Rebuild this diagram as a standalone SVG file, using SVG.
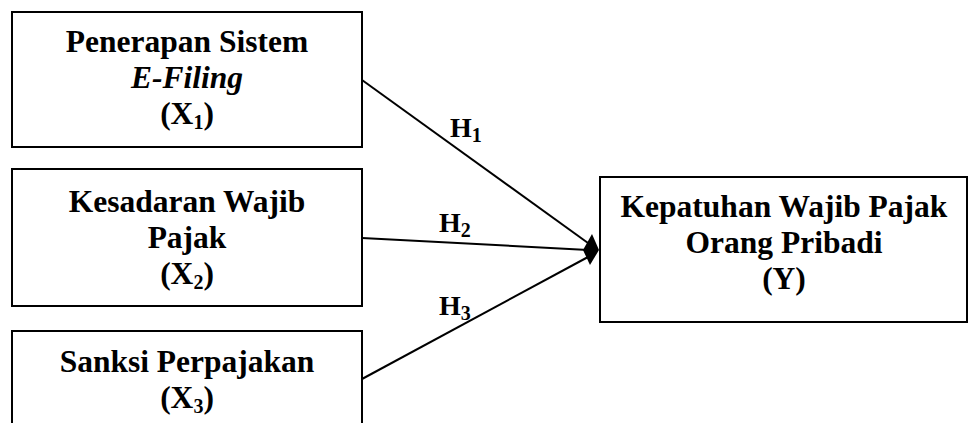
<svg xmlns="http://www.w3.org/2000/svg" width="971" height="423" viewBox="0 0 971 423">
  <style>
    .box { fill: #ffffff; stroke: #000000; stroke-width: 2; }
    .lbl { font-family: "Liberation Serif", "Times New Roman", serif; font-weight: bold; font-size: 31.5px; fill: #000000; text-anchor: middle; }
    .hyp { font-family: "Liberation Serif", "Times New Roman", serif; font-weight: bold; font-size: 28px; fill: #000000; }
    .sub { font-size: 20px; }
    .link { stroke: #000000; stroke-width: 2; fill: none; }
  </style>
  <rect width="971" height="423" fill="#ffffff"/>

  <g id="node-x1">
    <rect class="box" x="12" y="12" width="350" height="135"/>
    <text class="lbl" x="187" y="52">Penerapan Sistem</text>
    <text class="lbl" x="187" y="88" font-style="italic">E-Filing</text>
    <text class="lbl" x="187" y="124">(X<tspan class="sub" dy="5">1</tspan><tspan dy="-5">)</tspan></text>
  </g>

  <g id="node-x2">
    <rect class="box" x="12" y="169" width="350" height="137"/>
    <text class="lbl" x="187" y="212">Kesadaran Wajib</text>
    <text class="lbl" x="187" y="248">Pajak</text>
    <text class="lbl" x="187" y="284">(X<tspan class="sub" dy="5">2</tspan><tspan dy="-5">)</tspan></text>
  </g>

  <g id="node-x3">
    <rect class="box" x="12" y="331" width="350" height="110"/>
    <text class="lbl" x="187" y="372">Sanksi Perpajakan</text>
    <text class="lbl" x="187" y="408">(X<tspan class="sub" dy="5">3</tspan><tspan dy="-5">)</tspan></text>
  </g>

  <g id="node-y">
    <rect class="box" x="600" y="177" width="367" height="145"/>
    <text class="lbl" x="784" y="217">Kepatuhan Wajib Pajak</text>
    <text class="lbl" x="784" y="253">Orang Pribadi</text>
    <text class="lbl" x="784" y="289">(Y)</text>
  </g>

  <g id="connectors">
    <line class="link" x1="362" y1="80" x2="588" y2="243"/>
    <line class="link" x1="362" y1="238" x2="588" y2="250"/>
    <line class="link" x1="362" y1="379" x2="588" y2="257"/>
    <path d="M592,234 L599,250 L590,265 L583,250 Z" fill="#000000"/>
    <text class="hyp" x="450" y="137">H<tspan class="sub" dy="5">1</tspan></text>
    <text class="hyp" x="439" y="232">H<tspan class="sub" dy="5">2</tspan></text>
    <text class="hyp" x="439" y="315">H<tspan class="sub" dy="5">3</tspan></text>
  </g>
</svg>
